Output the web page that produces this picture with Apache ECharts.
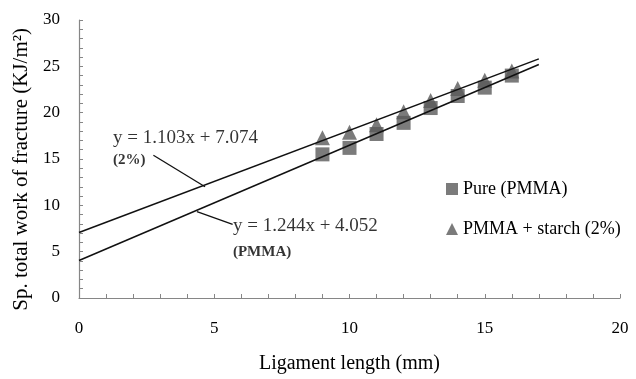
<!DOCTYPE html>
<html>
<head>
<meta charset="utf-8">
<script src="https://cdn.jsdelivr.net/npm/echarts@6/dist/echarts.min.js"></script>
<style>html,body{margin:0;padding:0;background:#fff;}#c{width:636px;height:379px;}</style>
</head>
<body>
<div id="c"></div>
<script>
const ligament = [9, 10, 11, 12, 13, 14, 15, 16];
const purePMMA = [15.5, 16.2, 17.7, 18.9, 20.5, 21.8, 22.7, 24.0];
const starch2 = [17.3, 17.9, 18.7, 20.1, 21.3, 22.6, 23.5, 24.5];
const trendPMMA = [[0, 4.05], [17, 25.2]];
const trend2 = [[0, 7.07], [17, 25.8]];
const xTicks = [0, 5, 10, 15, 20];
const yTicks = [0, 5, 10, 15, 20, 25, 30];
const yTitle = 'Sp. total work of fracture (KJ/m\u00B2)';
const xTitle = 'Ligament length (mm)';
const annotations = [
  { text: 'y = 1.103x + 7.074', at: [1.26, 17.3] },
  { text: '(2%)', bold: true, at: [1.26, 14.85] },
  { text: 'y = 1.244x + 4.052', at: [5.69, 7.75] },
  { text: '(PMMA)', bold: true, at: [5.69, 4.9] }
];
const arrows = [
  [[2.75, 15.4], [4.66, 12.0]],
  [[5.68, 7.95], [4.36, 9.33]]
];

const FONT = 'Liberation Serif';
const AXIS = '#868686';
const MARK = '#5a5a5a';

const chart = echarts.init(document.getElementById('c'));
const axisCommon = {
  axisLine: { lineStyle: { color: AXIS, width: 1.2 } },
  axisTick: { inside: true, length: 4, lineStyle: { color: AXIS } },
  minorTick: { show: true, splitNumber: 5, length: 4, lineStyle: { color: AXIS } },
  splitLine: { show: false },
  axisLabel: { color: '#000', fontFamily: FONT, fontSize: 17 },
  nameTextStyle: { color: '#000', fontFamily: FONT, fontSize: 20 }
};
chart.setOption({
  animation: false,
  backgroundColor: '#fff',
  grid: { left: 79, right: 16, top: 20, bottom: 75, containLabel: false },
  graphic: [{
    type: 'text', left: 11, top: 28, rotation: Math.PI / 2,
    style: { text: yTitle, fontFamily: FONT, fontSize: 21, fill: '#000' }
  }],
  xAxis: Object.assign({}, axisCommon, {
    type: 'value', min: xTicks[0], max: xTicks[xTicks.length - 1], interval: 5,
    name: xTitle, nameLocation: 'middle', nameGap: 56,
    axisLabel: Object.assign({}, axisCommon.axisLabel, { margin: 22 })
  }),
  yAxis: Object.assign({}, axisCommon, {
    type: 'value', min: yTicks[0], max: yTicks[yTicks.length - 1], interval: 5,
    axisLabel: Object.assign({}, axisCommon.axisLabel, { margin: 19 })
  }),
  legend: {
    orient: 'vertical', left: 441, top: 175, itemGap: 22,
    itemWidth: 12, itemHeight: 12,
    textStyle: { fontFamily: FONT, fontSize: 18, color: '#000' },
    data: [
      { name: 'Pure (PMMA)', icon: 'rect' },
      { name: 'PMMA + starch (2%)', icon: 'triangle' }
    ]
  },
  series: [
    {
      name: 'Pure (PMMA)', type: 'scatter', symbol: 'rect', symbolSize: 14,
      itemStyle: { color: MARK }, z: 2,
      data: ligament.map((x, i) => [x, purePMMA[i]])
    },
    {
      name: 'PMMA + starch (2%)', type: 'scatter', symbol: 'triangle', symbolSize: 15,
      itemStyle: { color: MARK }, z: 2,
      data: ligament.map((x, i) => [x, starch2[i]])
    },
    {
      type: 'line', data: trendPMMA, symbol: 'none', silent: true, z: 3,
      lineStyle: { color: '#111', width: 1.5 },
      markLine: {
        silent: true, symbol: ['none', 'arrow'], symbolSize: [0, 9],
        lineStyle: { color: '#111', width: 1.3, type: 'solid' },
        label: { show: false },
        data: arrows.map(a => [{ coord: a[0] }, { coord: a[1] }])
      }
    },
    {
      type: 'line', data: trend2, symbol: 'none', silent: true, z: 3,
      lineStyle: { color: '#111', width: 1.5 }
    },
    {
      type: 'scatter', silent: true, symbolSize: 0, z: 4,
      data: annotations.map(a => ({
        value: a.at,
        label: {
          show: true, position: 'right', distance: 0, formatter: a.text,
          fontFamily: FONT, fontSize: a.bold ? 15 : 19,
          fontWeight: a.bold ? 'bold' : 'normal', color: '#000'
        }
      }))
    }
  ]
});
</script>
</body>
</html>
